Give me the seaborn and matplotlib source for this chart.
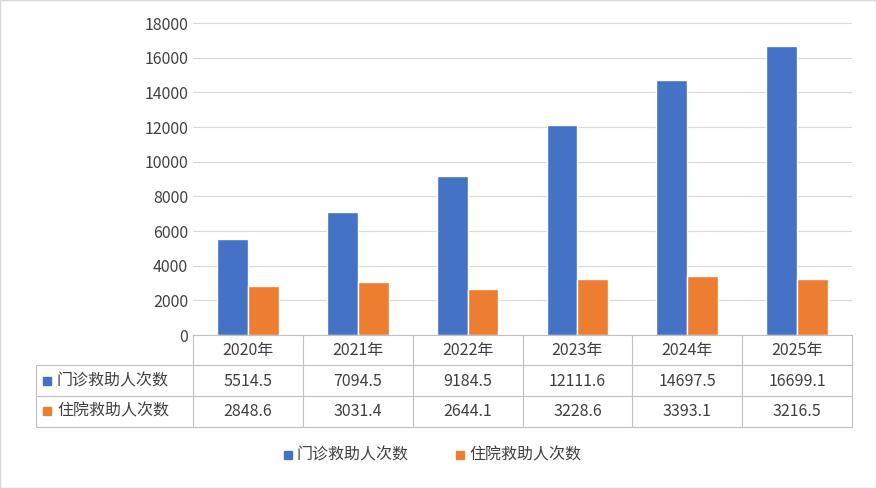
import seaborn as sns
import matplotlib.pyplot as plt
import pandas as pd
from matplotlib.patches import Rectangle

years = ['2020年', '2021年', '2022年', '2023年', '2024年', '2025年']
outpatient = [5514.5, 7094.5, 9184.5, 12111.6, 14697.5, 16699.1]
inpatient = [2848.6, 3031.4, 2644.1, 3228.6, 3393.1, 3216.5]
series = ['门诊救助人次数', '住院救助人次数']
colors = ['#4472C4', '#ED7D31']

df = pd.DataFrame({
    'year': years * 2,
    'value': outpatient + inpatient,
    'series': [series[0]] * 6 + [series[1]] * 6,
})

sns.set_style('white')
plt.rcParams['font.family'] = ['Noto Sans CJK SC', 'DejaVu Sans']
W, H = 876, 488
fig = plt.figure(figsize=(W / 100, H / 100), dpi=100)
fig.patches.append(Rectangle((0, 0), 1, 1, transform=fig.transFigure, fill=False,
                             edgecolor='#D9D9D9', linewidth=1))

ax = fig.add_axes([193 / W, 1 - 335 / H, 659 / W, 312 / H])
sns.barplot(data=df, x='year', y='value', hue='series', palette=colors,
            width=0.56, saturation=1, ax=ax, legend=False)
ax.set_xlim(-0.5, 5.5)
ax.set_ylim(0, 18000)
ax.set_yticks(range(0, 18001, 2000))
ax.tick_params(axis='y', labelsize=11.5, colors='#404040', length=0)
ax.set_xticks([])
ax.set_xlabel('')
ax.set_ylabel('')
ax.grid(axis='y', color='#D9D9D9', linewidth=0.8)
ax.set_axisbelow(True)
for s in ['top', 'right', 'left', 'bottom']:
    ax.spines[s].set_visible(False)

# data table
tx = fig.add_axes([0, 0, 1, 1])
tx.set_xlim(0, W)
tx.set_ylim(H, 0)
tx.axis('off')
lc = '#BFBFBF'
x0, xl, xr = 36, 193, 852
rows = [335, 365, 396, 427]
for y in rows[1:]:
    tx.plot([x0, xr], [y, y], color=lc, lw=0.8)
tx.plot([xl, xr], [335, 335], color=lc, lw=0.8)
tx.plot([x0, x0], [365, 427], color=lc, lw=0.8)
cw = (xr - xl) / 6
for i in range(7):
    tx.plot([xl + i * cw] * 2, [335, 427], color=lc, lw=0.8)
for i, yr in enumerate(years):
    cx = xl + (i + 0.5) * cw
    tx.text(cx, 350, yr, ha='center', va='center', fontsize=11.5, color='#404040')
    tx.text(cx, 381, f'{outpatient[i]}', ha='center', va='center', fontsize=11.5, color='#404040')
    tx.text(cx, 411, f'{inpatient[i]}', ha='center', va='center', fontsize=11.5, color='#404040')
for j, (name, y) in enumerate(zip(series, [381, 411])):
    tx.add_patch(Rectangle((43, y - 4), 8, 8, color=colors[j]))
    tx.text(57, y, name, ha='left', va='center', fontsize=11.5, color='#404040')

# legend
for j, (name, lx) in enumerate(zip(series, [284, 456])):
    tx.add_patch(Rectangle((lx, 451), 8, 8, color=colors[j]))
    tx.text(lx + 13, 455, name, ha='left', va='center', fontsize=11.5, color='#404040')

fig.savefig('out.png', dpi=100)
